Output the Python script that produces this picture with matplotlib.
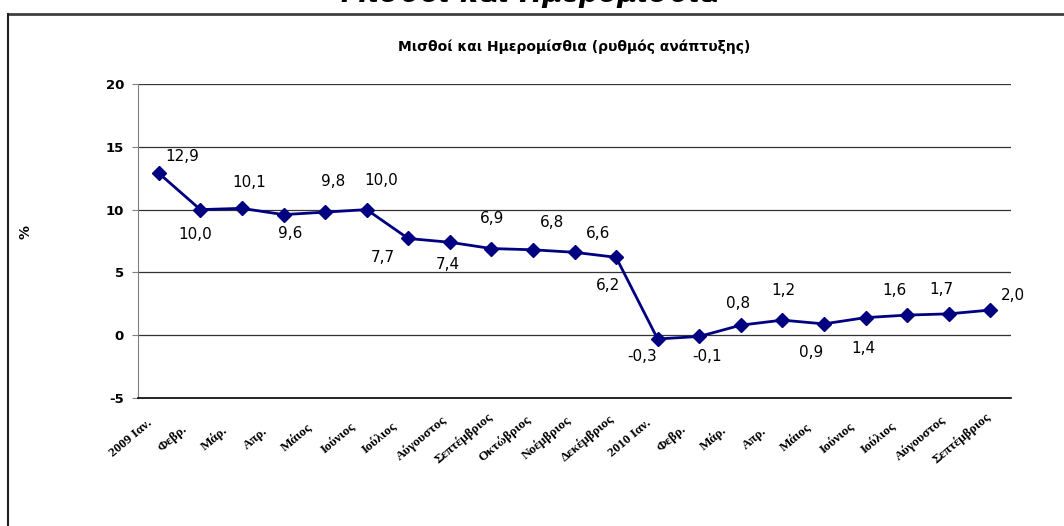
import numpy as np
import matplotlib
matplotlib.use("Agg")
import matplotlib.pyplot as plt
import matplotlib.transforms as mtransforms
from matplotlib.lines import Line2D

# μισθοί και ημερομίσθια, ρυθμός ανάπτυξης %
months = ['2009 Ιαν.', 'Φεβρ.', 'Μάρ.', 'Απρ.', 'Μάιος', 'Ιούνιος', 'Ιούλιος',
          'Αύγουστος', 'Σεπτέμβριος', 'Οκτώβριος', 'Νοέμβριος', 'Δεκέμβριος',
          '2010 Ιαν.', 'Φεβρ.', 'Μάρ.', 'Απρ.', 'Μάιος', 'Ιούνιος', 'Ιούλιος',
          'Αύγουστος', 'Σεπτέμβριος']
growth = [12.9, 10.0, 10.1, 9.6, 9.8, 10.0, 7.7, 7.4, 6.9, 6.8, 6.6, 6.2,
          -0.3, -0.1, 0.8, 1.2, 0.9, 1.4, 1.6, 1.7, 2.0]
yticks = [-5, 0, 5, 10, 15, 20]

# where each value label sits relative to its point (pixels)
label_offsets = [(23, 17), (-5, -25), (7, 26), (7, -19), (8, 31), (15, 29),
                 (-25, -19), (-2, -22), (1, 30), (19, 27), (24, 19), (-8, -28),
                 (-16, -18), (8, -20), (-3, 22), (1, 30), (-13, -29), (-2, -31),
                 (-13, 25), (-7, 24), (23, 15)]

navy = '#000080'

fig = plt.figure(figsize=(10.64, 5.26), dpi=100)
ax = fig.add_axes([138/1064, 1 - 398/526, 873/1064, 314/526])

x = np.arange(len(growth))
ax.plot(x, growth, color=navy, linewidth=2.0, marker='D', markersize=7.5,
        markerfacecolor=navy, markeredgecolor=navy, zorder=3)

for xi, v, (dx, dy) in zip(x, growth, label_offsets):
    ax.annotate(('%.1f' % v).replace('.', ','), (xi, v), xytext=(dx, dy),
                textcoords='offset pixels', ha='center', va='center',
                fontsize=11, color='black', family='DejaVu Sans')

ax.set_xlim(-0.5, len(growth) - 0.5)
ax.set_ylim(-5, 20)
ax.set_yticks(yticks)
ax.set_yticklabels([str(t) for t in yticks], fontsize=9.5, fontweight='bold')
for t in yticks[1:]:
    ax.axhline(t, color='#333333', linewidth=0.9, zorder=1)

ax.set_xticks(x)
ax.set_xticklabels(months, rotation=40, ha='center', va='center',
                   family='Liberation Serif', fontweight='bold', fontsize=9.5)
ax.tick_params(axis='x', length=0, pad=29)
ax.tick_params(axis='y', length=4, color='#808080', pad=6)
shift = mtransforms.ScaledTranslation(-28/100, 0, fig.dpi_scale_trans)
for lab in ax.get_xticklabels():
    lab.set_transform(lab.get_transform() + shift)

for s in ['top', 'right']:
    ax.spines[s].set_visible(False)
ax.spines['left'].set_color('#808080')
ax.spines['bottom'].set_color('black')
ax.spines['bottom'].set_linewidth(1.2)

ax.set_ylabel('%', fontsize=10, fontweight='bold', rotation=90)
ax.yaxis.set_label_coords(-0.121, 0.53)

ax.set_title('Μισθοί και Ημερομίσθια (ρυθμός ανάπτυξης)', fontsize=10,
             fontweight='bold', pad=0, y=1 + 33/314)

# frame of the chart area and the clipped heading above it
fig.add_artist(Line2D([8/1064, 1], [1 - 14/526, 1 - 14/526], color='#404040',
                      linewidth=2.0, transform=fig.transFigure))
fig.add_artist(Line2D([8/1064, 8/1064], [0, 1 - 14/526], color='#202020',
                      linewidth=1.5, transform=fig.transFigure))
fig.text(530/1064, 1 - 2/526, 'Μισθοί και Ημερομίσθια', ha='center',
         va='baseline', fontsize=20, fontweight='bold', style='italic')

fig.savefig('out.png', dpi=100)
